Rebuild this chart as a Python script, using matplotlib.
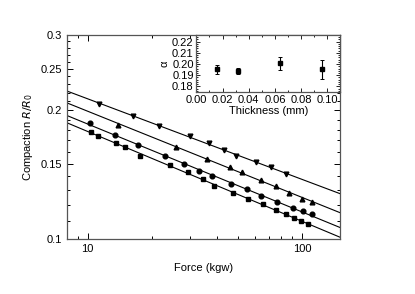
import numpy as np
import matplotlib
matplotlib.use("Agg")
import matplotlib.pyplot as plt
from matplotlib.ticker import FixedLocator, NullFormatter, MultipleLocator

plt.rcParams['font.family'] = ['Liberation Sans', 'DejaVu Sans']

# serie triangulos hacia abajo
force_down = [11.3, 16.2, 21.4, 30.0, 36.7, 43.0, 49.2, 60.8, 71.7, 83.7]
r_down = [0.207, 0.194, 0.184, 0.174, 0.168, 0.161, 0.156, 0.151, 0.147, 0.142]

# serie triangulos hacia arriba
force_up = [13.9, 25.7, 36.1, 46.2, 52.2, 64.0, 75.1, 86.7, 99.3, 111.4]
r_up = [0.185, 0.164, 0.154, 0.147, 0.143, 0.137, 0.133, 0.128, 0.124, 0.122]

# serie circulos
force_circ = [10.2, 13.4, 17.1, 22.9, 28.1, 32.9, 37.9, 46.3, 55.5, 64.4, 76.5, 90.5, 100.8, 111.0]
r_circ = [0.187, 0.175, 0.166, 0.156, 0.150, 0.144, 0.140, 0.134, 0.131, 0.126, 0.122, 0.118, 0.116, 0.114]

# serie cuadrados
force_sq = [10.4, 11.2, 13.5, 14.9, 17.6, 24.1, 29.4, 34.4, 38.6, 47.3, 56.0, 65.9, 75.1, 83.7, 91.4, 98.3, 106.8]
r_sq = [0.1775, 0.174, 0.168, 0.164, 0.156, 0.1485, 0.143, 0.138, 0.133, 0.128, 0.124, 0.1206, 0.117, 0.114, 0.112, 0.110, 0.108]

# inset: exponente alfa vs espesor
thickness = [0.016, 0.032, 0.064, 0.096]
alpha = [0.1952, 0.1934, 0.2006, 0.1952]
alpha_err = [0.0043, 0.0027, 0.006, 0.0082]

series = [
    (force_down, r_down, 'v'),
    (force_up, r_up, '^'),
    (force_circ, r_circ, 'o'),
    (force_sq, r_sq, 's'),
]

fig = plt.figure(figsize=(4.15, 2.94), dpi=100)
ax = fig.add_axes([0.1614, 0.188, 0.658, 0.693])

xfit = np.logspace(np.log10(8), np.log10(150), 50)
for fx, ry, mk in series:
    p = np.polyfit(np.log10(fx), np.log10(ry), 1)
    ax.plot(xfit, 10 ** np.polyval(p, np.log10(xfit)), color='black', lw=0.8)
    ax.plot(fx, ry, linestyle='none', marker=mk, color='black', markersize=3.4)

ax.set_xscale('log')
ax.set_yscale('log')
ax.set_xlim(8, 150)
ax.set_ylim(0.1, 0.3)
ax.yaxis.set_major_locator(FixedLocator([0.1, 0.15, 0.2, 0.25, 0.3]))
ax.set_yticklabels(['0.1', '0.15', '0.2', '0.25', '0.3'])
ax.yaxis.set_minor_locator(FixedLocator(np.arange(0.11, 0.30, 0.01)))
ax.yaxis.set_minor_formatter(NullFormatter())
ax.xaxis.set_major_locator(FixedLocator([10, 100]))
ax.set_xticklabels(['10', '100'])
ax.xaxis.set_minor_locator(FixedLocator([9, 20, 30, 40, 50, 60, 70, 80, 90]))
ax.xaxis.set_minor_formatter(NullFormatter())
ax.tick_params(which='both', direction='in', top=True, right=True, labelsize=8, width=0.7)
ax.tick_params(which='major', length=4)
ax.tick_params(which='minor', length=2)
for s in ax.spines.values():
    s.set_linewidth(0.9)
    s.set_color('#555555')
ax.set_xlabel('Force (kgw)', fontsize=8, labelpad=7)
ax.set_ylabel('Compaction $R/R_0$', fontsize=8)

# inset
ins = fig.add_axes([0.4733, 0.687, 0.3467, 0.194])
ins.errorbar(thickness, alpha, yerr=alpha_err, fmt='s', color='black',
             markersize=3.2, elinewidth=0.8, capsize=1.5, capthick=0.7)
ins.set_xlim(0, 0.11)
ins.set_ylim(0.175, 0.226)
ins.xaxis.set_major_locator(MultipleLocator(0.02))
ins.xaxis.set_minor_locator(MultipleLocator(0.01))
ins.yaxis.set_major_locator(MultipleLocator(0.01))
ins.yaxis.set_minor_locator(MultipleLocator(0.002))
ins.xaxis.set_major_formatter(plt.FormatStrFormatter('%.2f'))
ins.yaxis.set_major_formatter(plt.FormatStrFormatter('%.2f'))
ins.tick_params(which='both', direction='in', top=True, right=True, labelsize=8, width=0.6, pad=2)
ins.tick_params(which='major', length=3)
ins.tick_params(which='minor', length=1.5)
for s in ins.spines.values():
    s.set_linewidth(0.9)
    s.set_color('#555555')
ins.set_xlabel('Thickness (mm)', fontsize=8, labelpad=1)
ins.set_ylabel('α', fontsize=8, labelpad=2)

fig.savefig('out.png', dpi=100)
